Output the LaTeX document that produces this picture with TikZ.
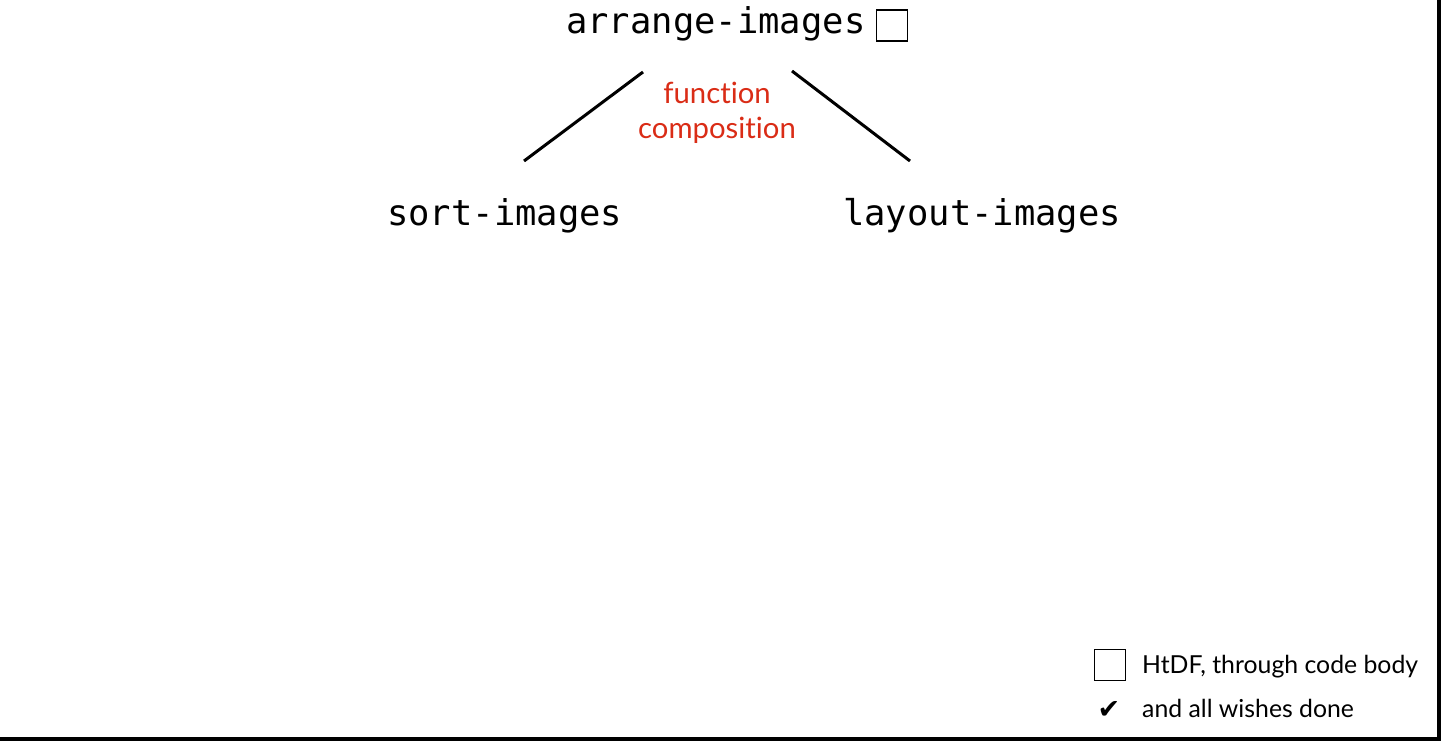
\documentclass[tikz,border=0pt]{standalone}
\usepackage{fontspec}
\setmainfont[Ligatures={NoCommon}]{Lato}
\setmonofont{DejaVu Sans Mono}
\newfontfamily\symfont{DejaVu Sans}
\definecolor{noteRed}{RGB}{218,44,22}
\begin{document}
\begin{tikzpicture}[x=1pt,y=-1pt,
  fnname/.style={font=\ttfamily\fontsize{35.5}{40}\selectfont, anchor=base west, inner sep=0pt, text=black},
  note/.style={font=\fontsize{29.3}{33}\selectfont, text=noteRed, anchor=base, inner sep=0pt},
  legend/.style={font=\fontsize{24.8}{29}\selectfont, anchor=base west, inner sep=0pt, text=black},
  todobox/.style={draw=black, line width=1.6pt, minimum width=31pt, minimum height=31pt, inner sep=0pt, anchor=north west},
  branch/.style={draw=black, line width=3pt}]
  % canvas and frame edges
  \fill[white] (0,0) rectangle (1441,741);
  \useasboundingbox (0,0) rectangle (1441,741);
  \fill[black] (1437,0) rectangle (1441,741);
  \fill[black] (0,737) rectangle (1441,741);

  % function names
  \node[fnname] (arrange) at (566,34) {arrange-images};
  \node[todobox] (abox) at (875.5,9.5) {};
  \node[fnname] (sort) at (387,225) {sort-images};
  \node[fnname] (layout) at (843,225) {layout-images};

  % composition branches
  \coordinate (lt) at (643,72);
  \coordinate (lb) at (524,161);
  \coordinate (rt) at (792,71);
  \coordinate (rb) at (910,161);
  \draw[branch] (lt) -- (lb);
  \draw[branch] (rt) -- (rb);

  % note
  \node[note] (n1) at (717,104) {function};
  \node[note] (n2) at (717,139) {composition};

  % legend
  \node[todobox] (lbox) at (1093.5,648.5) {};
  \node[legend] (l1) at (1142,673) {HtDF, through code body};
  \node[font=\symfont\fontsize{27}{30}\selectfont, anchor=base, inner sep=0pt] (chk) at (1109,718) {✔};
  \node[legend] (l2) at (1142,717) {and all wishes done};
\end{tikzpicture}
\end{document}
